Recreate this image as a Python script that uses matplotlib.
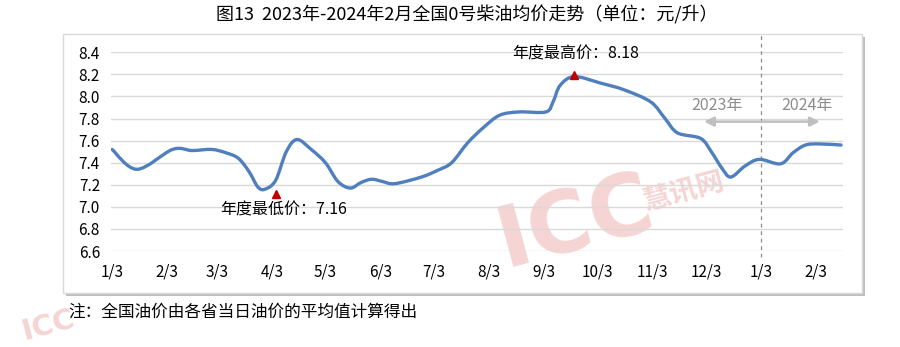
import numpy as np
import pandas as pd
import matplotlib
matplotlib.use("Agg")
import matplotlib.pyplot as plt
import matplotlib.dates as mdates
from matplotlib.path import Path
from matplotlib.patches import PathPatch, Rectangle

plt.rcParams['font.family'] = ['Noto Sans CJK SC', 'DejaVu Sans']

# ---------------- data ----------------
dates = ["2023-01-03", "2023-01-17", "2023-02-06", "2023-02-17", "2023-02-28",
         "2023-03-08", "2023-03-15", "2023-03-21", "2023-03-26", "2023-03-30",
         "2023-04-05", "2023-04-11", "2023-04-17", "2023-04-25", "2023-05-03",
         "2023-05-10", "2023-05-17", "2023-05-23", "2023-05-29", "2023-06-04",
         "2023-06-11", "2023-06-26", "2023-07-05", "2023-07-13", "2023-07-22",
         "2023-07-31", "2023-08-09", "2023-08-20", "2023-09-04", "2023-09-08",
         "2023-09-12", "2023-09-20", "2023-10-05", "2023-10-18", "2023-11-02",
         "2023-11-10", "2023-11-17", "2023-11-30", "2023-12-06", "2023-12-12",
         "2023-12-17", "2023-12-25", "2024-01-02", "2024-01-14", "2024-01-21",
         "2024-01-28", "2024-02-05", "2024-02-17"]
prices = [7.52, 7.34, 7.52, 7.51, 7.52,
          7.49, 7.44, 7.32, 7.18, 7.16,
          7.24, 7.50, 7.61, 7.52, 7.40,
          7.23, 7.17, 7.22, 7.25, 7.23,
          7.21, 7.27, 7.33, 7.40, 7.58,
          7.72, 7.83, 7.86, 7.86, 7.95,
          8.10, 8.18, 8.12, 8.06, 7.95,
          7.80, 7.67, 7.62, 7.50, 7.35,
          7.27, 7.37, 7.43, 7.39, 7.49,
          7.56, 7.57, 7.56]

tick_dates = ["2023-01-03", "2023-02-03", "2023-03-03", "2023-04-03", "2023-05-03",
              "2023-06-03", "2023-07-03", "2023-08-03", "2023-09-03", "2023-10-03",
              "2023-11-03", "2023-12-03", "2024-01-03", "2024-02-03"]
tick_labels = ["1/3", "2/3", "3/3", "4/3", "5/3", "6/3", "7/3", "8/3", "9/3",
               "10/3", "11/3", "12/3", "1/3", "2/3"]
y_ticks = [6.6, 6.8, 7.0, 7.2, 7.4, 7.6, 7.8, 8.0, 8.2, 8.4]

low_date, low_value = "2023-04-03", 7.16
high_date, high_value = "2023-09-20", 8.18
year_split = "2024-01-03"

title = "图13  2023年-2024年2月全国0号柴油均价走势（单位：元/升）"
note = "注：全国油价由各省当日油价的平均值计算得出"

# ---------------- figure ----------------
fig = plt.figure(figsize=(9, 3.47), dpi=100)
W, H = 900, 347

def fx(px):
    return px / W

def fy(py):
    return 1 - py / H

# frame box with shadow
box_l, box_t, box_r, box_b = 63, 34, 862, 293
fig.patches.append(Rectangle((fx(box_l + 3), fy(box_b + 3)), fx(box_r - box_l), fy(box_t) - fy(box_b),
                             transform=fig.transFigure, facecolor='#bfbfbf', edgecolor='none',
                             zorder=-5))
fig.patches.append(Rectangle((fx(box_l), fy(box_b)), fx(box_r - box_l), fy(box_t) - fy(box_b),
                             transform=fig.transFigure, facecolor='white', edgecolor='#d9d9d9',
                             linewidth=1.0, zorder=-4))

# watermark
fig.text(fx(575), fy(224), "ICC", fontsize=62, fontweight='heavy',
         color='#f2c2c2', alpha=0.7, rotation=15, ha='center', va='center',
         family='DejaVu Sans', zorder=-3)
fig.text(fx(684), fy(192), "慧讯网", fontsize=20, fontweight='bold',
         color='#f2c2c2', alpha=0.7, rotation=15, ha='center', va='center', zorder=-3)
fig.text(fx(48), fy(325), "ICC", fontsize=21, fontweight='heavy',
         color='#f2c2c2', alpha=0.7, rotation=15, ha='center', va='center',
         family='DejaVu Sans', zorder=-3)

ax = fig.add_axes([fx(111), fy(251), fx(843 - 111), fy(52.3) - fy(251)])
ax.set_facecolor('none')

x = mdates.date2num(pd.to_datetime(dates))
y = np.array(prices)

# smooth (Catmull-Rom -> cubic Bezier) path through the points
pts = np.column_stack([x, y])
ext = np.vstack([pts[0], pts, pts[-1]])
verts = [pts[0]]
codes = [Path.MOVETO]
for i in range(1, len(ext) - 2):
    p0, p1, p2, p3 = ext[i - 1], ext[i], ext[i + 1], ext[i + 2]
    c1 = p1 + (p2 - p0) / 6.0
    c2 = p2 - (p3 - p1) / 6.0
    verts += [c1, c2, p2]
    codes += [Path.CURVE4] * 3
ax.add_patch(PathPatch(Path(verts, codes), facecolor='none', edgecolor='#4f7fbd',
                       linewidth=2.4, capstyle='round', joinstyle='round', zorder=3))
ax.plot(x, y, alpha=0)  # keep data limits registered

x0 = mdates.date2num(pd.Timestamp("2023-01-03"))
ax.set_xlim(x0 - 0.6, x0 + 411.1)
ax.set_ylim(6.6, 8.4)
ax.set_yticks(y_ticks)
ax.set_yticklabels([f"{v:.1f}" for v in y_ticks])
ax.set_xticks(mdates.date2num(pd.to_datetime(tick_dates)))
ax.set_xticklabels(tick_labels)
ax.tick_params(axis='both', length=0, labelsize=11, colors='black')
ax.tick_params(axis='y', pad=8)
ax.tick_params(axis='x', pad=9)
for s in ax.spines.values():
    s.set_visible(False)
ax.grid(axis='y', color='#d9d9d9', linewidth=1.0, zorder=0)
ax.set_axisbelow(True)

# min / max markers and labels
lx = mdates.date2num(pd.Timestamp(low_date))
hx = mdates.date2num(pd.Timestamp(high_date))
ax.plot([lx + 2], [low_value - 0.04], marker='^', color='#c00000', markersize=5.5, zorder=4,
        linestyle='none')
ax.plot([hx], [high_value + 0.01], marker='^', color='#c00000', markersize=5.5, zorder=4,
        linestyle='none')
ax.annotate(f"年度最低价：{low_value:.2f}", (lx + 2, low_value - 0.04), xytext=(6, -12),
            textcoords='offset points', ha='center', va='center', fontsize=11.5)
ax.annotate(f"年度最高价：{high_value:.2f}", (hx, high_value), xytext=(1, 16.5),
            textcoords='offset points', ha='center', va='center', fontsize=11.5)

# year split line, arrow and labels
sx = mdates.date2num(pd.Timestamp(year_split))
ax.axvline(sx, ymin=-0.03, ymax=1.09, color='#8c8c8c', linestyle=(0, (3, 3)),
           linewidth=0.9, clip_on=False, zorder=2)
ax.annotate("", xy=(sx - 32, 7.772), xytext=(sx + 33, 7.772),
            arrowprops=dict(arrowstyle='<|-|>', color='#bfbfbf', lw=1.8,
                            mutation_scale=14, shrinkA=0, shrinkB=0))
ax.text(sx - 25, 7.914, "2023年", ha='center', va='center', fontsize=11.5, color='#8c8c8c')
ax.text(sx + 26, 7.914, "2024年", ha='center', va='center', fontsize=11.5, color='#8c8c8c')

fig.text(fx(467), fy(15), title, ha='center', va='center', fontsize=13, fontweight='medium')
fig.text(fx(68), fy(312), note, ha='left', va='center', fontsize=12)

fig.savefig("out.png", dpi=100)
